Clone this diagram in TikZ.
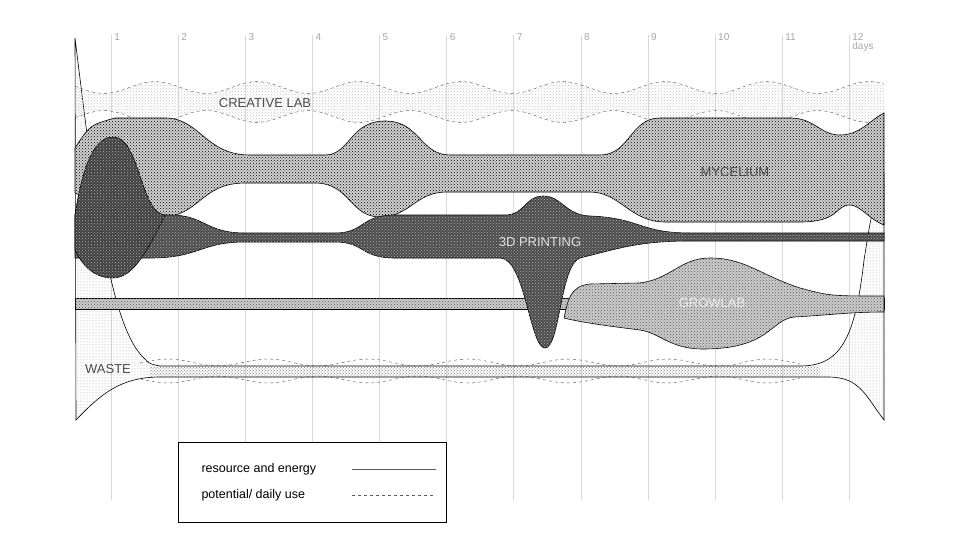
\documentclass[tikz,border=0pt]{standalone}
\usepackage{fontspec}
\setmainfont{Liberation Sans}
\usetikzlibrary{patterns, positioning}

\tikzset{
  band/.style={draw=black, line width=0.6pt},
  label/.style={font=\fontsize{13}{15}\selectfont, text=gray!60!black},
  daynum/.style={font=\fontsize{10}{11}\selectfont, text=gray!70, anchor=north west, inner sep=1pt}
}

\begin{document}
\begin{tikzpicture}[x=1pt, y=-1pt]
        \useasboundingbox (0,0) rectangle (960,540);

        % day grid
        \foreach \d in {1,...,12} {
          \draw [gray!30, line width=0.5pt] ({44+67.1*\d},35) -- ({44+67.1*\d},500);
          \node [daynum] (day\d) at ({46+67.1*\d},32) {\d};
        }
        \node [daynum, below=0pt of day12.south west, anchor=north west] (days) {days};

        % waste
        \path [band, pattern=dots, pattern color=gray!80]
          (75,38) .. controls (95,200) and (110,330) .. (146,360)
          .. controls (150,364) .. (160,366) -- (800,366)
          .. controls (840,366) and (855,340) .. (864,260)
          .. controls (872,210) .. (884,175) -- (884,420)
          .. controls (865,395) and (860,378) .. (830,377) -- (160,377)
          .. controls (120,377) and (100,395) .. (76,420) -- cycle;
        \fill [pattern=crosshatch dots, pattern color=gray] (150,366) rectangle (820,376);
        \draw [dashed, gray!60!black] plot [domain=140:800, samples=90] (\x,{362.5-3.5*cos(3.6*(\x-168))});
        \draw [dashed, gray!60!black] plot [domain=140:800, samples=90] (\x,{379.5+3.5*cos(3.6*(\x-168))});
        \node [label] (waste) at (108,369) {WASTE};

        % creative lab
        \fill [pattern=crosshatch dots, pattern color=gray!45]
          plot [domain=75:884, samples=120] (\x,{87.5-6*cos(3.53*(\x-257))})
          -- plot [domain=884:75, samples=120] (\x,{116.5+6*cos(3.53*(\x-257))}) -- cycle;
        \draw [dashed, gray!70!black] plot [domain=75:884, samples=120] (\x,{87.5-6*cos(3.53*(\x-257))});
        \draw [dashed, gray!70!black] plot [domain=75:884, samples=120] (\x,{116.5+6*cos(3.53*(\x-257))});
        \node [label] (lab) at (265,103) {CREATIVE LAB};

        % mycelium
        \path [band, fill=gray!35, postaction={pattern=crosshatch dots}]
          (75,148) .. controls (90,125) .. (115,118) -- (165,118)
          .. controls (200,118) and (205,155) .. (250,155) -- (325,155)
          .. controls (350,155) and (350,121) .. (385,121)
          .. controls (420,121) and (420,155) .. (450,155) -- (600,155)
          .. controls (630,155) and (630,118) .. (660,118) -- (790,118)
          .. controls (815,118) and (820,135) .. (840,135)
          .. controls (860,135) and (870,120) .. (884,113)
          -- (884,225)
          .. controls (870,220) and (860,205) .. (850,205)
          .. controls (835,205) and (840,222) .. (800,222) -- (665,222)
          .. controls (630,222) and (620,192) .. (590,192) -- (447,192)
          .. controls (415,192) and (410,217) .. (380,217)
          .. controls (350,217) and (350,183) .. (315,183) -- (245,183)
          .. controls (200,183) and (200,217) .. (160,217)
          .. controls (120,217) and (95,200) .. (75,193) -- cycle;
        \node [label] (myc) at (735,172) {MYCELIUM};

        % growlab
        \path [band, fill=gray!40, postaction={pattern=crosshatch dots, pattern color=gray!70!black}]
          (75,298) rectangle (884,309);
        \path [band, fill=gray!40, postaction={pattern=crosshatch dots, pattern color=gray!70!black}]
          (564,318) .. controls (568,300) and (570,286) .. (590,284) -- (639,283)
          .. controls (670,280) and (680,258) .. (710,258)
          .. controls (745,258) and (760,275) .. (800,288)
          .. controls (830,296) .. (884,296) -- (884,312)
          .. controls (850,312) and (830,315) .. (794,317)
          .. controls (770,320) and (770,349) .. (703,349)
          .. controls (670,349) and (660,333) .. (640,330)
          .. controls (600,325) and (580,322) .. (564,318) -- cycle;
        \node [label, text=gray!15] (grow) at (712,303) {GROWLAB};

        % 3d printing
        \path [band, fill=black!70, postaction={pattern=crosshatch dots, pattern color=gray!60}]
          (75,215) -- (170,215)
          .. controls (205,215) and (205,233) .. (245,233) -- (335,233)
          .. controls (365,233) and (360,215) .. (395,215) -- (505,215)
          .. controls (525,215) and (525,196) .. (543,196)
          .. controls (562,196) and (565,215) .. (590,216)
          .. controls (640,218) and (640,233) .. (690,233) -- (884,233)
          -- (884,241) -- (690,241)
          .. controls (640,241) and (620,248) .. (580,258)
          .. controls (560,265) and (560,348) .. (545,348)
          .. controls (530,348) and (525,258) .. (500,258) -- (395,258)
          .. controls (360,258) and (365,242) .. (335,242) -- (245,242)
          .. controls (200,242) and (200,258) .. (150,258) -- (75,258) -- cycle;
        \path [band, fill=black!75, postaction={pattern=crosshatch dots, pattern color=gray!60}]
          (75,215) .. controls (85,150) and (100,137) .. (113,137)
          .. controls (140,137) and (140,213) .. (165,215)
          .. controls (150,245) and (135,278) .. (113,278)
          .. controls (90,278) and (80,260) .. (75,250) -- cycle;
        \node [label, text=gray!25] (print) at (540,242) {3D PRINTING};

        % legend
        \node [draw, fill=white, minimum width=268pt, minimum height=80pt] (legend) at (312,482) {};
        \node [font=\fontsize{12.5}{14}\selectfont, anchor=west] (res) at (198,469) {resource and energy};
        \node [font=\fontsize{12.5}{14}\selectfont, anchor=west] (pot) at (198,495) {potential/ daily use};
        \coordinate (resA) at (352,469); \coordinate (resB) at (436,469);
        \coordinate (potA) at (352,495); \coordinate (potB) at (436,495);
        \draw [gray!70!black] (resA) -- (resB);
        \draw [dashed, gray!70!black] (potA) -- (potB);
\end{tikzpicture}
\end{document}
